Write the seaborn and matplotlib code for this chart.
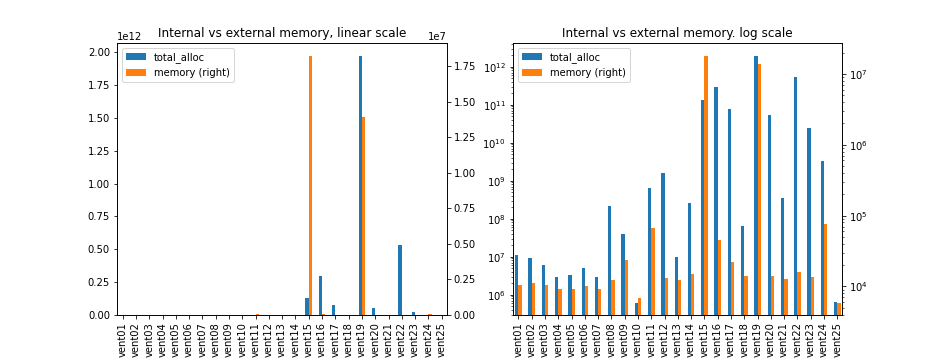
import matplotlib
matplotlib.use("Agg")
import matplotlib.pyplot as plt
import seaborn as sns
import pandas as pd
import numpy as np

categories = [f"vent{i:02d}" for i in range(1, 26)]
total_alloc = [1.13e7, 9.4e6, 6.2e6, 3.0e6, 3.4e6, 5.1e6, 3.0e6, 2.2e8, 4.0e7, 6.2e5,
               6.5e8, 1.63e9, 1.0e7, 2.6e8, 1.3e11, 2.97e11, 7.5e10, 6.5e7, 1.97e12, 5.4e10,
               3.6e8, 5.32e11, 2.4e10, 3.4e9, 6.5e5]
memory = [1.06e4, 1.13e4, 1.06e4, 9.3e3, 9.3e3, 1.02e4, 9.3e3, 1.24e4, 2.38e4, 6.9e3,
          6.7e4, 1.33e4, 1.24e4, 1.51e4, 1.82e7, 4.56e4, 2.23e4, 1.42e4, 1.39e7, 1.42e4,
          1.28e4, 1.61e4, 1.37e4, 7.7e4, 5.9e3]
series_names = ["total_alloc", "memory (right)"]
colors = ["#1f77b4", "#ff7f0e"]
titles = ["Internal vs external memory, linear scale", "Internal vs external memory. log scale"]

df_a = pd.DataFrame({"vent": categories, "value": total_alloc, "series": series_names[0]})
df_m = pd.DataFrame({"vent": categories, "value": memory, "series": series_names[1]})

fig, axes = plt.subplots(1, 2, figsize=(13, 5), dpi=72)
fig.subplots_adjust(bottom=0.125, top=0.88)

for k, ax in enumerate(axes):
    logy = (k == 1)
    ax2 = ax.twinx()
    if logy:
        ax.set_yscale("log")
        ax2.set_yscale("log")
    sns.barplot(data=df_a, x="vent", y="value", hue="series", hue_order=series_names,
                palette=colors, order=categories, width=0.5, saturation=1, dodge=True,
                errorbar=None, legend=False, linewidth=0, ax=ax)
    sns.barplot(data=df_m, x="vent", y="value", hue="series", hue_order=series_names,
                palette=colors, order=categories, width=0.5, saturation=1, dodge=True,
                errorbar=None, legend=False, linewidth=0, ax=ax2)
    ax.set_xlim(-0.43, len(categories) - 1 + 0.38)
    for a in (ax, ax2):
        a.set_xlabel("")
        a.set_ylabel("")
    plt.setp(ax.get_xticklabels(), rotation=90)
    ax.set_title(titles[k])
    h_a = [c for c in ax.containers if len(c) > 0][0]
    h_m = [c for c in ax2.containers if len(c) > 0][-1]
    ax2.legend([h_a, h_m], series_names, loc="upper left")

fig.savefig("out.png", dpi=72)
